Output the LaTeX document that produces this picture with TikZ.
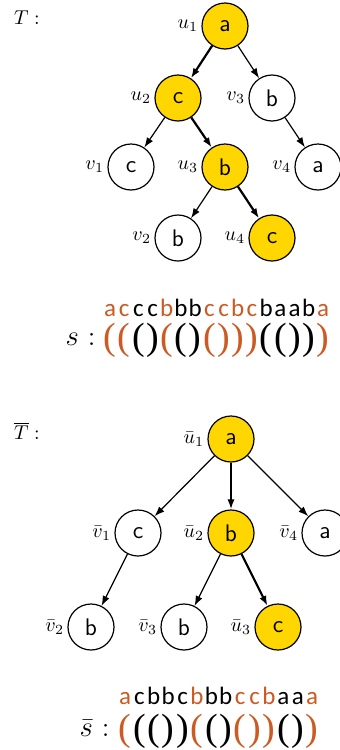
\documentclass[tikz,border=0pt]{standalone}
\usepackage{fontspec}
\newfontfamily\strfont{Carlito}
\newfontfamily\parenfont{Liberation Serif}
\usepackage{xcolor}
\definecolor{pathgold}{RGB}{255,214,0}
\definecolor{pathorange}{RGB}{204,90,35}
\usepackage{tikz}
\usetikzlibrary{arrows.meta, positioning}

\begin{document}
\begin{tikzpicture}[
  x=0.5pt, y=-0.5pt,
  vtx/.style={circle, draw, line width=0.6pt, minimum size=23pt, inner sep=0pt,
              font=\sffamily\fontsize{12}{14}\selectfont},
  onpath/.style={vtx, fill=pathgold},
  lab/.style={font=\fontsize{10}{12}\selectfont, inner sep=1.5pt},
  edge/.style={draw, line width=0.6pt, -{Latex[length=5pt,width=3.6pt]}},
  pathedge/.style={edge, line width=1.1pt},
  letter/.style={font=\strfont\fontsize{12.5}{14}\selectfont, inner sep=0pt, anchor=base},
  paren/.style={font=\parenfont\fontsize{19}{20}\selectfont, inner sep=0pt, anchor=base,
                text height=13pt, text depth=3.5pt},
  title/.style={font=\fontsize{10}{12}\selectfont},
  strname/.style={font=\fontsize{14}{16}\selectfont, anchor=base east, inner sep=0pt}
]
\useasboundingbox (0,0) rectangle (339,750);

% Tree T
\node[title] (tT) at (27,18) {$T:$};

\node[onpath] (u1) at (225,26)  [label={[lab]left:$u_1$}] {a};
\node[onpath] (u2) at (178,98)  [label={[lab]left:$u_2$}] {c};
\node[vtx]    (v3) at (272,98)  [label={[lab]left:$v_3$}] {b};
\node[vtx]    (v1) at (131,167) [label={[lab]left:$v_1$}] {c};
\node[onpath] (u3) at (225,167) [label={[lab]left:$u_3$}] {b};
\node[vtx]    (v4) at (318,167) [label={[lab]left:$v_4$}] {a};
\node[vtx]    (v2) at (178,238) [label={[lab]left:$v_2$}] {b};
\node[onpath] (u4) at (272,238) [label={[lab]left:$u_4$}] {c};

\draw[pathedge] (u1) -- (u2);
\draw[edge]     (u1) -- (v3);
\draw[edge]     (u2) -- (v1);
\draw[pathedge] (u2) -- (u3);
\draw[edge]     (v3) -- (v4);
\draw[edge]     (u3) -- (v2);
\draw[pathedge] (u3) -- (u4);

% string s
\node[strname] (ts) at (96,345) {$s$ :};
\foreach \ch/\br/\col [count=\i from 0] in
  {a/{(}/pathorange, c/{(}/pathorange, c/{(}/black, c/{)}/black,
   b/{(}/pathorange, b/{(}/black, b/{)}/black, c/{(}/pathorange,
   c/{)}/pathorange, b/{)}/pathorange, c/{)}/pathorange, b/{(}/black,
   a/{(}/black, a/{)}/black, b/{)}/black, a/{)}/pathorange}
{
  \node[letter, text=\col] (sl\i) at (110+14.2*\i,316) {\ch};
  \node[paren, text=\col]  (sp\i) at (110+14.2*\i,349) {\br};
}

% Tree T bar
\node[title] (tTb) at (27,431) {$\overline{T}:$};

\node[onpath] (ub1) at (231,439) [label={[lab]left:$\bar{u}_1$}] {a};
\node[vtx]    (vb1) at (138,533) [label={[lab]left:$\bar{v}_1$}] {c};
\node[onpath] (ub2) at (231,533) [label={[lab]left:$\bar{u}_2$}] {b};
\node[vtx]    (vb4) at (325,533) [label={[lab]left:$\bar{v}_4$}] {a};
\node[vtx]    (vb2) at (91,627)  [label={[lab]left:$\bar{v}_2$}] {b};
\node[vtx]    (vb3) at (184,627) [label={[lab]left:$\bar{v}_3$}] {b};
\node[onpath] (ub3) at (278,627) [label={[lab]left:$\bar{u}_3$}] {c};

\draw[edge]     (ub1) -- (vb1);
\draw[pathedge] (ub1) -- (ub2);
\draw[edge]     (ub1) -- (vb4);
\draw[edge]     (vb1) -- (vb2);
\draw[edge]     (ub2) -- (vb3);
\draw[pathedge] (ub2) -- (ub3);

% string s bar
\node[strname] (tsb) at (110,736) {$\bar{s}$ :};
\foreach \ch/\br/\col [count=\i from 0] in
  {a/{(}/pathorange, c/{(}/black, b/{(}/black, b/{)}/black,
   c/{)}/black, b/{(}/pathorange, b/{(}/black, b/{)}/black,
   c/{(}/pathorange, c/{)}/pathorange, b/{)}/pathorange, a/{(}/black,
   a/{)}/black, a/{)}/pathorange}
{
  \node[letter, text=\col] (bl\i) at (125+14.4*\i,704) {\ch};
  \node[paren, text=\col]  (bp\i) at (125+14.4*\i,740) {\br};
}

\end{tikzpicture}
\end{document}
